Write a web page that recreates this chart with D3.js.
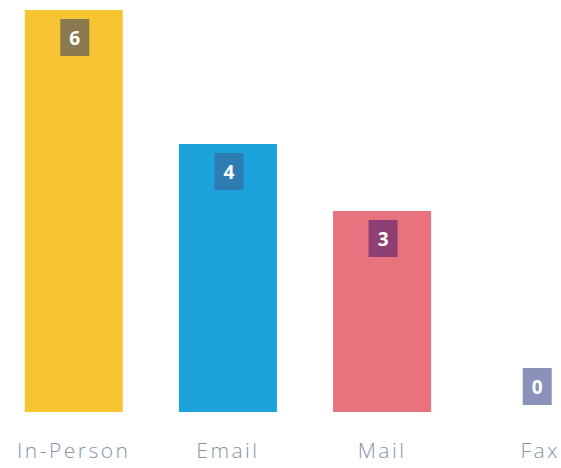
<!DOCTYPE html>
<html>
<head>
<meta charset="utf-8">
<script src="https://cdn.jsdelivr.net/npm/d3@7"></script>
<style>
html,body{margin:0;padding:0;background:#fff;overflow:hidden;}
svg{display:block;}
</style>
</head>
<body>
<svg id="chart" width="561" height="468"></svg>
<script>
const categories = ["In-Person", "Email", "Mail", "Fax"];
const values = [6, 4, 3, 0];
const barColors = ["#F7C432", "#1CA3DC", "#E8737E", "#9AA0C4"];
const labelColors = ["#8B7A4F", "#2F7CB2", "#8D3E72", "#8A92BA"];

const svg = d3.select("#chart");
const baseline = 412;
const x = d3.scaleBand().domain(categories).range([-3, 613]).paddingInner(0.364).paddingOuter(0.18);
const y = d3.scaleLinear().domain([0, 6]).range([baseline, 10]);

const g = svg.append("g");
g.selectAll("rect.bar").data(values).join("rect")
  .attr("class", "bar")
  .attr("x", (d, i) => x(categories[i]))
  .attr("width", x.bandwidth())
  .attr("y", d => y(d))
  .attr("height", d => baseline - y(d))
  .attr("fill", (d, i) => barColors[i]);

const bw = 29, bh = 37;
const boxY = d => Math.min(y(d) + 9, baseline - 44);
g.selectAll("rect.lab").data(values).join("rect")
  .attr("class", "lab")
  .attr("x", (d, i) => x(categories[i]) + x.bandwidth() / 2 - bw / 2 + 1)
  .attr("y", d => boxY(d))
  .attr("width", bw)
  .attr("height", bh)
  .attr("fill", (d, i) => labelColors[i]);

g.selectAll("text.val").data(values).join("text")
  .attr("class", "val")
  .attr("x", (d, i) => x(categories[i]) + x.bandwidth() / 2 + 1)
  .attr("y", d => boxY(d) + bh / 2 + 7)
  .attr("text-anchor", "middle")
  .attr("font-family", "Open Sans, sans-serif")
  .attr("font-weight", "bold")
  .attr("font-size", 19)
  .attr("fill", "#fff")
  .text(d => d);

const axis = d3.axisBottom(x).tickSize(0).tickPadding(0);
const ax = svg.append("g").attr("transform", `translate(0,${baseline + 31})`).call(axis);
ax.select(".domain").remove();
ax.selectAll("text")
  .attr("font-family", "Open Sans, sans-serif")
  .attr("font-size", 21)
  .attr("font-weight", 300)
  .attr("fill", "#8794A8")
  .attr("letter-spacing", "2.5px");
ax.selectAll(".tick").filter(d => d === "Fax").select("text").attr("dx", 4);
</script>
</body>
</html>
